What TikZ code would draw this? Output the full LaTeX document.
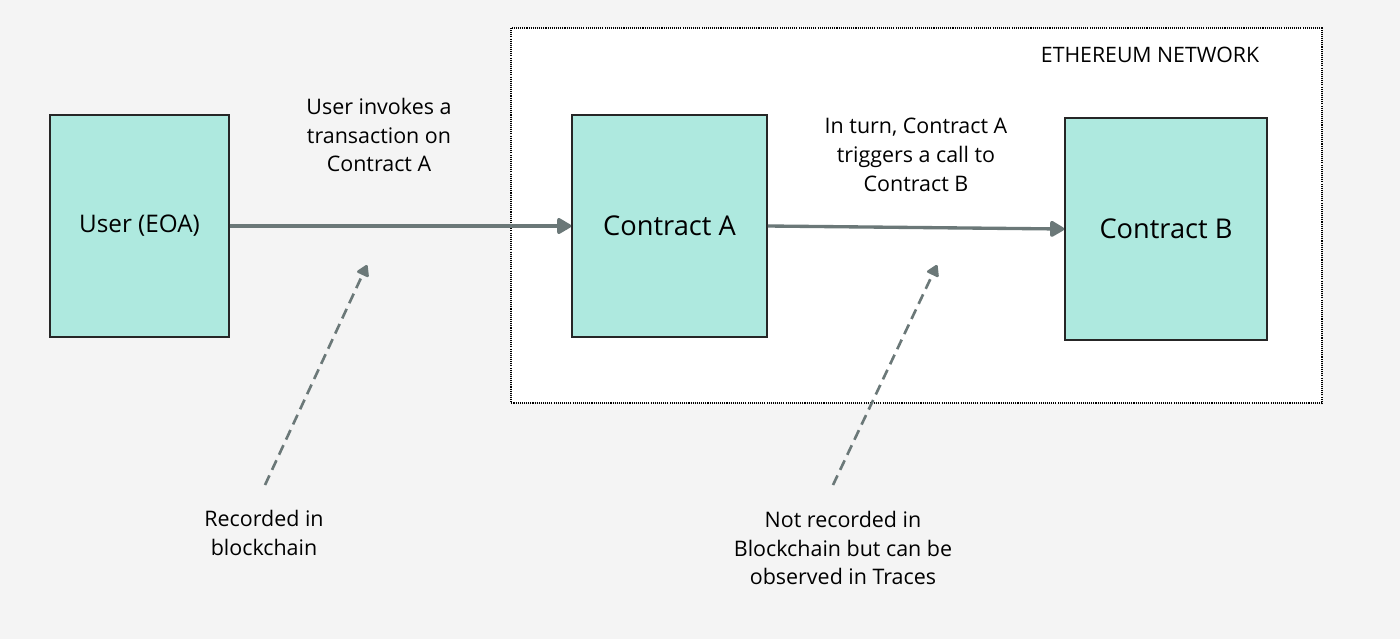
\documentclass[tikz,border=0pt]{standalone}
\usepackage{fontspec}
\setmainfont{Open Sans}
\usetikzlibrary{arrows.meta, calc}
\usetikzlibrary{positioning}

\definecolor{bgcol}{HTML}{F4F4F4}
\definecolor{boxcol}{HTML}{AEE9DF}
\definecolor{arrcol}{HTML}{6B7878}

\begin{document}
\begin{tikzpicture}[
    entity/.style={draw=black!85, line width=0.9pt, fill=boxcol, font=\fontsize{13.8}{16}\selectfont, inner sep=0pt},
    call/.style={draw=arrcol, line width=1.9pt, -{Triangle[length=9pt, width=10pt, round]}},
    note/.style={draw=arrcol, line width=1.5pt, dash pattern=on 6pt off 3.5pt, -{Triangle[length=7pt, width=8pt, round]}},
    caption/.style={align=center, font=\fontsize{12.2}{16.4}\selectfont}]
    \fill[bgcol] (0,0) rectangle (28,-12.78);
    \useasboundingbox (0,0) rectangle (28,-12.78);
    % network area
    \draw[fill=white, line width=0.8pt, dash pattern=on 0.6pt off 0.6pt] (10.22,-0.56) rectangle (26.44,-8.06);
    \node[font=\fontsize{12.1}{14}\selectfont] (net) at (23.0,-1.1) {ETHEREUM NETWORK};
	\node[entity, minimum width=3.58cm, minimum height=4.44cm] (user) at (2.79,-4.52) {User (EOA)};
	\node[entity, minimum width=3.9cm, minimum height=4.44cm, font=\fontsize{15.5}{18}\selectfont] (conA) at (13.39,-4.52) {Contract A};
	\node[entity, minimum width=4.04cm, minimum height=4.44cm, font=\fontsize{15.5}{18}\selectfont] (conB) at (23.32,-4.58) {Contract B};
	\draw[call] (user.east) -- (conA.west);
	\draw[call] (conA.east) -- (conB.west);
	\node[caption] (invoke) at (7.58,-2.7) {User invokes a\\transaction on\\Contract A};
	\node[caption] (trigger) at (18.32,-3.1) {In turn, Contract A\\triggers a call to\\Contract B};
	\node[caption] (rec) at (5.28,-10.66) {Recorded in\\blockchain};
	\node[caption] (notrec) at (16.86,-10.96) {Not recorded in\\Blockchain but can be\\observed in Traces};
	\coordinate (tip1) at (7.34,-5.3);
	\coordinate (tip2) at (18.74,-5.3);
	\draw[note] (5.3,-9.7) -- (tip1);
	\draw[note] (16.66,-9.7) -- (tip2);
    \end{tikzpicture}
\end{document}
